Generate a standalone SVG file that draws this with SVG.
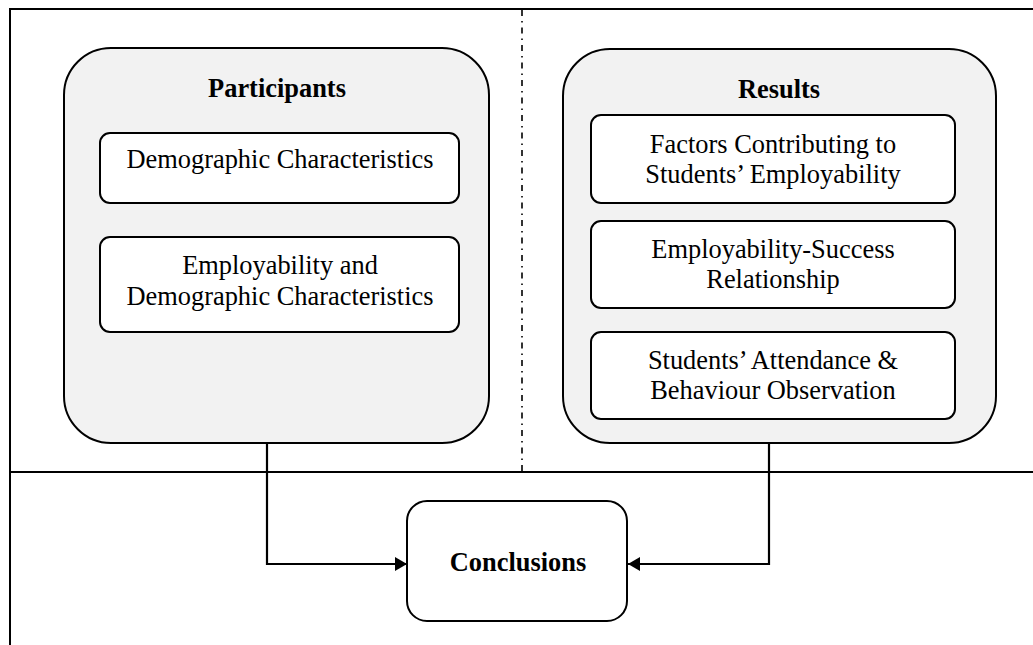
<svg xmlns="http://www.w3.org/2000/svg" width="1033" height="645" viewBox="0 0 1033 645">
  <defs>
    <style>
      .frame { fill: none; stroke: #000; stroke-width: 2; }
      .divider { fill: none; stroke: #000; stroke-width: 1.6; stroke-dasharray: 6 5 1.5 5; }
      .group { fill: #f2f2f2; stroke: #000; stroke-width: 2; }
      .item { fill: #fff; stroke: #000; stroke-width: 2; }
      .wire { fill: none; stroke: #000; stroke-width: 2.2; }
      text { font-family: "Liberation Serif", "Times New Roman", serif; font-size: 26.4px; fill: #000; text-anchor: middle; }
      .title { font-weight: bold; }
    </style>
    <marker id="arrow" viewBox="0 0 12 14" refX="12" refY="7" markerWidth="12" markerHeight="14" markerUnits="userSpaceOnUse" orient="auto">
      <path d="M0,0 L12,7 L0,14 Z" fill="#000"/>
    </marker>
  </defs>

  <!-- page frame and section dividers -->
  <g id="frame">
    <path class="frame" d="M10,645 V9 H1033"/>
    <line class="frame" x1="10" y1="472" x2="1033" y2="472"/>
    <line class="divider" x1="522" y1="10" x2="522" y2="471"/>
  </g>

  <!-- connectors -->
  <g id="connectors">
    <path class="wire" d="M267,443 V564 H407" marker-end="url(#arrow)"/>
    <path class="wire" d="M769,443 V564 H628" marker-end="url(#arrow)"/>
  </g>

  <g id="participants">
    <rect class="group" x="64" y="48" width="425" height="395" rx="47" ry="47"/>
    <text class="title" x="277" y="97">Participants</text>
  </g>
  <g id="demographic">
    <rect class="item" x="100" y="133" width="359" height="70" rx="10" ry="10"/>
    <text x="280" y="168">Demographic Characteristics</text>
  </g>
  <g id="employability-demographic">
    <rect class="item" x="100" y="237" width="359" height="95" rx="10" ry="10"/>
    <text x="280" y="274">Employability and</text>
    <text x="280" y="305">Demographic Characteristics</text>
  </g>

  <g id="results">
    <rect class="group" x="563" y="49" width="433" height="394" rx="47" ry="47"/>
    <text class="title" x="779" y="98">Results</text>
  </g>
  <g id="factors">
    <rect class="item" x="591" y="115" width="364" height="88" rx="10" ry="10"/>
    <text x="773" y="153">Factors Contributing to</text>
    <text x="773" y="183">Students’ Employability</text>
  </g>
  <g id="employability-success">
    <rect class="item" x="591" y="221" width="364" height="87" rx="10" ry="10"/>
    <text x="773" y="258">Employability-Success</text>
    <text x="773" y="288">Relationship</text>
  </g>
  <g id="attendance">
    <rect class="item" x="591" y="332" width="364" height="87" rx="10" ry="10"/>
    <text x="773" y="369">Students’ Attendance &amp;</text>
    <text x="773" y="399">Behaviour Observation</text>
  </g>

  <g id="conclusions">
    <rect class="item" x="407" y="501" width="220" height="120" rx="20" ry="20"/>
    <text class="title" x="518" y="571">Conclusions</text>
  </g>
</svg>
